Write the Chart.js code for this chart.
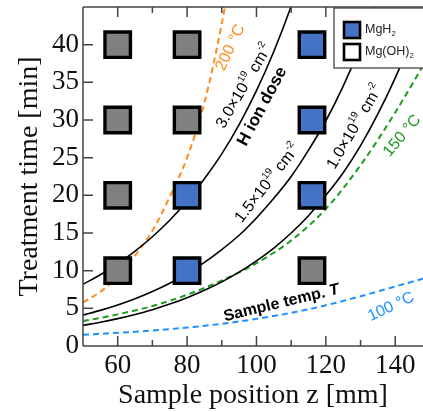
<!DOCTYPE html>
<html>
<head>
<meta charset="utf-8">
<script src="https://cdn.jsdelivr.net/npm/chart.js@4.4.1/dist/chart.umd.min.js"></script>
<style>
  html, body { margin: 0; padding: 0; background: #fff; }
</style>
</head>
<body>
<canvas id="chart" width="423" height="412"></canvas>
<script>
// sample squares: position z [mm], treatment time [min], phase found
var squareZ = [60, 60, 60, 60, 80, 80, 80, 80, 116, 116, 116, 116];
var squareT = [10, 20, 30, 40, 10, 20, 30, 40, 10, 20, 30, 40];
var squarePhase = ['OH', 'OH', 'OH', 'OH', 'H', 'H', 'OH', 'OH', 'OH', 'H', 'H', 'H'];

// iso-dose lines (z every 5 mm from 50)
var doseZ = [50, 55, 60, 65, 70, 75, 80, 85, 90, 95, 100, 105, 110, 115, 120, 125, 130, 135, 140, 145, 150];
var dose30 = [8.2, 9.45, 10.9, 12.6, 14.5, 16.7, 19.2, 22.2, 25.5, 29.4, 33.9, 39.1, 45.1, 51.9];
var dose15 = [4.1, 4.73, 5.45, 6.28, 7.24, 8.34, 9.61, 11.1, 12.8, 14.7, 17.0, 19.6, 22.5, 26.0, 29.9, 34.5, 39.8, 45.8];
var dose10 = [2.73, 3.15, 3.63, 4.19, 4.82, 5.56, 6.41, 7.39, 8.51, 9.81, 11.3, 13.0, 15.0, 17.3, 20.0, 23.0, 26.6, 30.8, 35.6, 41.0, 47.2];

// iso-temperature lines
var temp200 = [5.8, 7.2, 9.2, 12.0, 15.3, 19.8, 25.0, 32.3, 42.8, 56.0];   // z = 50..95 step 5
var tempZ = [50, 60, 70, 80, 90, 100, 110, 120, 130, 140, 150];
var temp150 = [3.3, 4.2, 5.3, 6.8, 8.7, 11.0, 14.0, 18.2, 24.0, 31.0, 38.8];
var temp100 = [1.5, 1.75, 2.05, 2.45, 2.95, 3.6, 4.4, 5.4, 6.6, 7.9, 9.2];

var xTicks = [60, 80, 100, 120, 140];
var xMinorTicks = [50, 70, 90, 110, 130];
var yTicks = [0, 5, 10, 15, 20, 25, 30, 35, 40];

var blue = '#4472c4';
var gray = '#808080';
var serif = '"Liberation Serif", "Times New Roman", serif';

function pairs(xs, ys) {
    return ys.map(function (y, i) { return { x: xs[i], y: y }; });
}

function squares(phase) {
    var pts = [];
    for (var i = 0; i < squareZ.length; i++) {
        if (squarePhase[i] === phase) pts.push({ x: squareZ[i], y: squareT[i] });
    }
    return pts;
}

function curve(data, color, dash, width) {
    return {
        type: 'line',
        data: data,
        borderColor: color,
        borderWidth: width || 1.6,
        borderDash: dash || [],
        pointRadius: 0,
        fill: false,
        cubicInterpolationMode: 'monotone',
        order: 2
    };
}

function squareSet(data, color) {
    return {
        type: 'scatter',
        data: data,
        pointStyle: 'rect',
        pointRadius: 18,
        backgroundColor: color,
        borderColor: '#000',
        borderWidth: 3.4,
        order: 0
    };
}

// rotated text made of parts, sup = superscript, sub = subscript
function richText(ctx, parts, x, y, angle, size, color, weight) {
    ctx.save();
    ctx.translate(x, y);
    ctx.rotate(angle * Math.PI / 180);
    ctx.fillStyle = color;
    ctx.textBaseline = 'middle';
    ctx.textAlign = 'left';
    function fontOf(p) {
        var s = (p.sup || p.sub) ? size * 0.62 : size;
        return (p.italic ? 'italic ' : '') + (weight || 'normal') + ' ' + s + 'px "Liberation Sans", Arial, sans-serif';
    }
    var w = 0;
    parts.forEach(function (p) { ctx.font = fontOf(p); w += ctx.measureText(p.t).width; });
    var cx = -w / 2;
    parts.forEach(function (p) {
        ctx.font = fontOf(p);
        var dy = p.sup ? -size * 0.38 : (p.sub ? size * 0.3 : 0);
        ctx.fillText(p.t, cx, dy);
        cx += ctx.measureText(p.t).width;
    });
    ctx.restore();
}

var notes = [
    { parts: [{ t: '200 °C' }], x: 92.5, y: 39.6, a: -65, c: '#ff8c1a' },
    { parts: [{ t: '3.0×10' }, { t: '19', sup: true }, { t: ' cm' }, { t: '-2', sup: true }], x: 96.5, y: 34.5, a: -59.5, c: '#000' },
    { parts: [{ t: 'H ion dose' }], x: 101.7, y: 31.8, a: -62, c: '#000', bold: true, size: 17 },
    { parts: [{ t: '1.5×10' }, { t: '19', sup: true }, { t: ' cm' }, { t: '-2', sup: true }], x: 103.2, y: 21.6, a: -52, c: '#000' },
    { parts: [{ t: '1.0×10' }, { t: '19', sup: true }, { t: ' cm' }, { t: '-2', sup: true }], x: 128.4, y: 29.1, a: -59.6, c: '#000' },
    { parts: [{ t: '150 °C' }], x: 142, y: 27.9, a: -50, c: '#1e9b1e' },
    { parts: [{ t: 'Sample temp. ' }, { t: 'T', italic: true }], x: 107.2, y: 5.7, a: -13.5, c: '#000', bold: true },
    { parts: [{ t: '100 °C' }], x: 138.8, y: 5.2, a: -25, c: '#1e90ff' }
];

function richTextLeft(ctx, parts, x, y, size) {
    ctx.save();
    ctx.fillStyle = '#222';
    ctx.textBaseline = 'middle';
    var cx = x;
    parts.forEach(function (p) {
        ctx.font = (p.sub ? size * 0.62 : size) + 'px "Liberation Sans", Arial, sans-serif';
        ctx.fillText(p.t, cx, p.sub ? y + size * 0.3 : y);
        cx += ctx.measureText(p.t).width;
    });
    ctx.restore();
}

var framePlugin = {
    id: 'frame',
    afterDraw: function (chart) {
        var ctx = chart.ctx, a = chart.chartArea;
        var xs = chart.scales.x, ys = chart.scales.y;
        ctx.save();
        ctx.strokeStyle = '#444';
        ctx.lineWidth = 1.5;
        ctx.beginPath();
        ctx.moveTo(a.left, a.top); ctx.lineTo(a.right + 2, a.top);
        ctx.moveTo(a.left, a.top); ctx.lineTo(a.left, a.bottom);
        ctx.moveTo(a.left, a.bottom); ctx.lineTo(a.right + 2, a.bottom);
        xTicks.forEach(function (v) {
            var p = xs.getPixelForValue(v);
            ctx.moveTo(p, a.bottom); ctx.lineTo(p, a.bottom - 10);
            ctx.moveTo(p, a.top); ctx.lineTo(p, a.top + 10);
        });
        xMinorTicks.forEach(function (v) {
            var p = xs.getPixelForValue(v);
            ctx.moveTo(p, a.bottom); ctx.lineTo(p, a.bottom - 6);
            ctx.moveTo(p, a.top); ctx.lineTo(p, a.top + 6);
        });
        yTicks.forEach(function (v) {
            var p = ys.getPixelForValue(v);
            ctx.moveTo(a.left, p); ctx.lineTo(a.left + 10, p);
        });
        ctx.stroke();

        // x tick labels
        ctx.fillStyle = '#111';
        ctx.font = '27px ' + serif;
        ctx.textAlign = 'center';
        ctx.textBaseline = 'top';
        xTicks.forEach(function (v) {
            ctx.fillText(String(v), xs.getPixelForValue(v), a.bottom + 6);
        });

        notes.forEach(function (n) {
            richText(ctx, n.parts, xs.getPixelForValue(n.x), ys.getPixelForValue(n.y), n.a, n.size || 16, n.c, n.bold ? 'bold' : 'normal');
        });

        // legend box
        var lx = 334, ly = 8, lw = 100, lh = 60;
        ctx.fillStyle = '#fff';
        ctx.fillRect(lx, ly, lw, lh);
        ctx.strokeStyle = '#444';
        ctx.lineWidth = 1.3;
        ctx.strokeRect(lx, ly, lw, lh);
        ctx.lineWidth = 2.6;
        ctx.strokeStyle = '#000';
        ctx.fillStyle = blue;
        ctx.fillRect(344, 22, 16, 16);
        ctx.strokeRect(344, 22, 16, 16);
        ctx.fillStyle = '#fff';
        ctx.fillRect(344, 44, 16, 16);
        ctx.strokeRect(344, 44, 16, 16);
        ctx.restore();
        richTextLeft(ctx, [{ t: 'MgH' }, { t: '2', sub: true }], 365, 30, 12.5);
        richTextLeft(ctx, [{ t: 'Mg(OH)' }, { t: '2', sub: true }], 365, 52, 12.5);
    }
};

new Chart(document.getElementById('chart').getContext('2d'), {
    data: {
        datasets: [
            squareSet(squares('H'), blue),
            squareSet(squares('OH'), gray),
            curve(pairs(doseZ, dose30), '#000'),
            curve(pairs(doseZ, dose15), '#000'),
            curve(pairs(doseZ, dose10), '#000'),
            curve(pairs(doseZ, temp200), '#ff8c1a', [6, 4], 2),
            curve(pairs(tempZ, temp150), '#1e9b1e', [6, 4], 2),
            curve(pairs(tempZ, temp100), '#1e90ff', [6, 4], 2)
        ]
    },
    options: {
        responsive: false,
        animation: false,
        layout: { autoPadding: false, padding: { top: 7, right: 0, left: 0, bottom: 0 } },
        plugins: { legend: { display: false }, tooltip: { enabled: false } },
        scales: {
            x: {
                type: 'linear',
                min: 50,
                max: 148,
                afterBuildTicks: function (s) { s.ticks = xTicks.map(function (v) { return { value: v }; }); },
                afterFit: function (s) { s.height = 66; },
                grid: { display: false, drawTicks: false },
                border: { display: false },
                ticks: { display: false },
                title: { display: true, text: 'Sample position z [mm]', font: { family: serif, size: 28 }, color: '#111', padding: { top: 0, bottom: 0 } }
            },
            y: {
                type: 'linear',
                min: 0,
                max: 45,
                afterBuildTicks: function (s) { s.ticks = yTicks.map(function (v) { return { value: v }; }); },
                afterFit: function (s) { s.width = 83; s.paddingTop = 0; s.paddingBottom = 0; },
                grid: { display: false, drawTicks: false },
                border: { display: false },
                ticks: { font: { family: serif, size: 27 }, color: '#111', padding: 4 },
                title: { display: true, text: 'Treatment time [min]', font: { family: serif, size: 28 }, color: '#111', padding: { top: 13, bottom: 0 } }
            }
        }
    },
    plugins: [framePlugin]
});
</script>
</body>
</html>
